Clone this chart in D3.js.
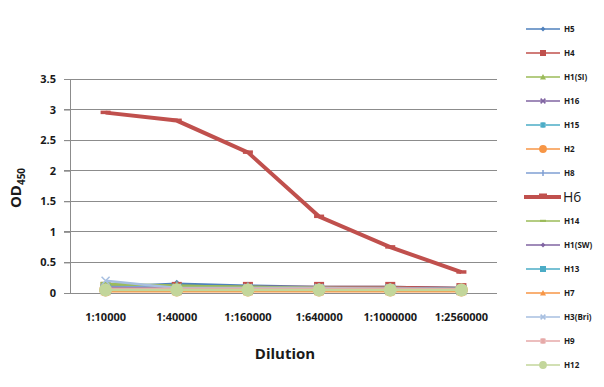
<!DOCTYPE html>
<html><head><meta charset="utf-8">
<script src="https://cdn.jsdelivr.net/npm/d3@7"></script>
<style>body{margin:0;background:#fff}text{font-family:"Open Sans","DejaVu Sans",sans-serif}</style>
</head><body><svg id="c" width="604" height="387"></svg>
<script>
const categories = ["1:10000","1:40000","1:160000","1:640000","1:1000000","1:2560000"];
const seriesNames = ["H5","H4","H1(SI)","H16","H15","H2","H8","H6","H14","H1(SW)","H13","H7","H3(Bri)","H9","H12"];
const H5 = [0.10,0.15,0.12,0.10,0.10,0.08];
const H4 = [0.10,0.10,0.10,0.10,0.10,0.08];
const H1SI = [0.12,0.12,0.10,0.08,0.08,0.07];
const H16 = [0.10,0.08,0.07,0.07,0.07,0.06];
const H15 = [0.08,0.07,0.07,0.06,0.06,0.06];
const H2 = [0.05,0.05,0.05,0.05,0.05,0.05];
const H8 = [0.10,0.10,0.09,0.08,0.08,0.07];
const H6 = [2.95,2.82,2.30,1.25,0.75,0.34];
const H14 = [0.15,0.12,0.10,0.08,0.07,0.06];
const H1SW = [0.08,0.07,0.07,0.07,0.07,0.06];
const H13 = [0.06,0.06,0.06,0.06,0.06,0.05];
const H7 = [0.03,0.03,0.03,0.03,0.03,0.03];
const H3Bri = [0.20,0.08,0.08,0.08,0.07,0.06];
const H9 = [0.07,0.07,0.07,0.07,0.07,0.06];
const H12 = [0.05,0.05,0.05,0.05,0.05,0.05];
const yTicks = [0,0.5,1,1.5,2,2.5,3,3.5];
const yTickLabels = ["0","0.5","1","1.5","2","2.5","3","3.5"];

const values = [H5,H4,H1SI,H16,H15,H2,H8,H6,H14,H1SW,H13,H7,H3Bri,H9,H12];
const colors = ["#4F81BD","#C0504D","#9BBB59","#8064A2","#4BACC6","#F79646","#7F9FD3","#C0504D","#9BBB59","#8064A2","#4BACC6","#F79646","#A7BFE0","#E6A9A8","#C3D69B"];
const markers = ["diamond","square","triangle","x","star","circle","vdash","hdash","hdash","diamond","square","triangle","x","star","circle"];

const svg = d3.select("#c");
const x = d3.scaleBand().domain(categories).range([70,497]);
const y = d3.scaleLinear().domain([0,3.5]).range([293,79]);

svg.append("g").selectAll("line").data(yTicks).join("line")
  .attr("x1",64).attr("x2",497).attr("y1",d=>y(d)).attr("y2",d=>y(d))
  .attr("stroke","#8c8c8c").attr("stroke-width",1).attr("shape-rendering","crispEdges");
const ya = svg.append("g").attr("transform","translate(70,0)")
  .call(d3.axisLeft(y).tickValues(yTicks).tickFormat((d,i)=>yTickLabels[i]).tickSize(6).tickPadding(8));
ya.select(".domain").attr("stroke","#8c8c8c").attr("shape-rendering","crispEdges");
ya.selectAll(".tick line").attr("stroke","#8c8c8c");
ya.selectAll("text").attr("font-size",11).attr("font-weight","bold").attr("fill","#1a1a1a");
const xa = svg.append("g").attr("transform","translate(0,293)")
  .call(d3.axisBottom(x).tickSize(0).tickPadding(20));
xa.select(".domain").remove();
xa.selectAll("text").attr("font-size",11).attr("font-weight","bold").attr("fill","#1a1a1a");

svg.append("text").attr("x",285).attr("y",359).attr("text-anchor","middle")
  .attr("font-size",15).attr("font-weight","bold").attr("fill","#1a1a1a").text("Dilution");
const yt = svg.append("text").attr("transform","translate(21,188) rotate(-90)").attr("text-anchor","middle")
  .attr("font-size",15).attr("font-weight","bold").attr("fill","#1a1a1a");
yt.append("tspan").text("OD");
yt.append("tspan").attr("font-size",10).attr("dy",4).text("450");

function drawMarker(g, type, cx, cy, color, s){
  switch(type){
    case "diamond": g.append("path").attr("d",`M${cx},${cy-4*s}L${cx+4*s},${cy}L${cx},${cy+4*s}L${cx-4*s},${cy}Z`).attr("fill",color); break;
    case "square": g.append("rect").attr("x",cx-5*s).attr("y",cy-5*s).attr("width",10*s).attr("height",10*s).attr("fill",color); break;
    case "triangle": g.append("path").attr("d",`M${cx},${cy-5*s}L${cx+5*s},${cy+4*s}L${cx-5*s},${cy+4*s}Z`).attr("fill",color); break;
    case "x": g.append("path").attr("d",`M${cx-4*s},${cy-4*s}L${cx+4*s},${cy+4*s}M${cx-4*s},${cy+4*s}L${cx+4*s},${cy-4*s}`).attr("stroke",color).attr("stroke-width",1.5); break;
    case "star": g.append("path").attr("d",`M${cx-4*s},${cy-4*s}L${cx+4*s},${cy+4*s}M${cx-4*s},${cy+4*s}L${cx+4*s},${cy-4*s}M${cx},${cy-5*s}L${cx},${cy+5*s}`).attr("stroke",color).attr("stroke-width",1.5); break;
    case "circle": g.append("circle").attr("cx",cx).attr("cy",cy).attr("r",6.5*s).attr("fill",color); break;
    case "vdash": g.append("path").attr("d",`M${cx},${cy-5*s}L${cx},${cy+5*s}`).attr("stroke",color).attr("stroke-width",1.5); break;
    case "hdash": g.append("rect").attr("x",cx-5*s).attr("y",cy-2*s).attr("width",10*s).attr("height",3.5*s).attr("fill",color); break;
  }
}

const line = d3.line().x((d,i)=>x(categories[i])+x.bandwidth()/2).y(d=>y(d));
const plot = svg.append("g");
const order = seriesNames.map((n,k)=>k).filter(k=>seriesNames[k]!=="H6").concat([seriesNames.indexOf("H6")]);
order.forEach(k=>{
  const g = plot.append("g");
  const isH6 = seriesNames[k]==="H6";
  g.append("path").datum(values[k]).attr("d",line).attr("fill","none").attr("stroke",colors[k]).attr("stroke-width",isH6?4:2.5);
  values[k].forEach((v,i)=>drawMarker(g,markers[k],x(categories[i])+x.bandwidth()/2,y(v),colors[k],1));
});

const leg = svg.append("g");
seriesNames.forEach((name,k)=>{
  const ly = 29 + k*24;
  const g = leg.append("g");
  const isH6 = name==="H6";
  g.append("line").attr("x1",isH6?524:526).attr("x2",isH6?561:560).attr("y1",ly).attr("y2",ly)
    .attr("stroke",colors[k]).attr("stroke-width",isH6?4:1.3);
  if(!isH6) drawMarker(g,markers[k],543,ly,colors[k],0.6);
  else g.append("rect").attr("x",539).attr("y",ly-3.5).attr("width",8).attr("height",3).attr("fill",colors[k]);
  g.append("text").attr("x",isH6?563:564).attr("y",ly).attr("dy","0.35em")
    .attr("font-size",isH6?14:8).attr("font-weight",isH6?"normal":"bold").attr("fill","#1a1a1a").text(name);
});
</script></body></html>
